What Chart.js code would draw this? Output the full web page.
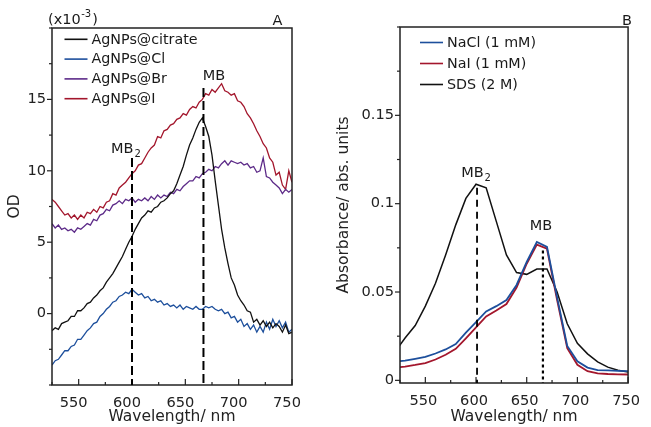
<!DOCTYPE html>
<html>
<head>
<meta charset="utf-8">
<script src="https://cdn.jsdelivr.net/npm/chart.js@4.4.1/dist/chart.umd.min.js"></script>
<style>
  body { margin: 0; background: #fff; width: 651px; height: 427px; overflow: hidden; position: relative; }
  .panel { position: absolute; top: 0; height: 427px; }
  #wrapA { left: 0; width: 325px; }
  #wrapB { left: 325px; width: 326px; }
</style>
</head>
<body>
<div class="panel" id="wrapA"><canvas id="chartA" width="325" height="427"></canvas></div>
<div class="panel" id="wrapB"><canvas id="chartB" width="326" height="427"></canvas></div>
<script>
// ---------- panel A data (OD x10^-3) ----------
const wavelengthsA = [525,528,531,534,537,540,543,546,549,552,555,558,561,564,567,570,573,576,579,582,
  585,588,591,594,597,600,603,606,609,612,615,618,621,624,627,630,633,636,639,642,
  645,648,651,654,657,660,663,666,669,672,675,678,681,684,687,690,693,696,699,702,
  705,708,711,714,717,720,723,726,729,732,735,738,741,744,747,750];
const odCitrate = [-1.2,-1.0,-1.1,-0.7,-0.6,-0.5,-0.2,-0.2,0.2,0.2,0.4,0.7,0.8,1.1,1.3,1.6,1.8,2.2,2.5,2.8,
  3.2,3.6,4.0,4.5,5.0,5.4,5.9,6.3,6.7,6.9,7.2,7.1,7.4,7.5,7.8,7.9,8.1,8.4,8.6,9.1,
  9.7,10.3,11.1,11.8,12.3,12.9,13.4,13.7,13.1,12.4,11.1,9.3,7.6,5.9,4.6,3.5,2.5,2.0,1.3,0.9,
  0.6,0.2,0.1,-0.6,-0.4,-0.8,-0.5,-0.9,-0.6,-1.0,-0.7,-0.9,-1.3,-0.8,-1.4,-1.3];
const odCl = [-3.6,-3.3,-3.2,-2.9,-2.6,-2.6,-2.3,-2.2,-1.8,-1.8,-1.5,-1.2,-1.0,-0.7,-0.6,-0.2,0.0,0.3,0.5,0.8,
  0.9,1.2,1.3,1.5,1.4,1.7,1.5,1.3,1.4,1.1,1.2,0.9,1.0,0.8,0.9,0.6,0.7,0.5,0.6,0.4,
  0.6,0.3,0.5,0.4,0.3,0.5,0.3,0.3,0.5,0.4,0.5,0.3,0.2,0.3,0.0,0.1,-0.3,-0.2,-0.6,-0.4,
  -0.9,-0.7,-1.1,-0.8,-1.3,-0.9,-1.3,-0.6,-1.1,-0.4,-0.9,-0.5,-1.0,-0.6,-1.3,-1.1];
const odBr = [6.3,6.0,6.2,5.9,6.0,5.8,5.9,5.7,6.0,5.9,6.1,6.3,6.2,6.6,6.5,6.9,7.0,7.3,7.2,7.6,
  7.7,7.9,7.7,8.0,7.9,8.1,7.8,8.0,7.9,8.1,7.9,8.2,8.0,8.3,8.1,8.3,8.2,8.5,8.4,8.7,
  8.6,8.9,9.1,9.3,9.3,9.6,9.5,9.8,9.9,10.1,10.0,10.3,10.2,10.5,10.7,10.4,10.7,10.6,10.5,10.6,
  10.4,10.5,10.2,10.3,9.9,10.0,10.9,9.6,9.5,9.2,9.0,8.8,8.4,8.7,8.5,8.7];
const odI = [8.0,7.8,7.5,7.2,6.9,7.0,6.7,6.9,6.6,6.9,6.7,7.1,7.0,7.3,7.1,7.5,7.4,7.8,7.9,8.4,
  8.3,8.8,9.0,9.2,9.5,9.8,10.0,10.4,10.5,10.9,11.3,11.6,11.8,12.4,12.3,12.8,12.9,13.2,13.3,13.6,
  13.7,14.0,13.9,14.3,14.5,14.4,14.8,15.0,15.4,15.3,15.7,15.5,15.8,16.1,15.6,15.5,15.3,15.4,14.9,14.8,
  14.5,14.0,13.7,13.3,12.8,12.4,11.9,11.6,10.9,10.6,9.7,9.9,9.0,8.7,10.0,9.2];
const namesA = ['AgNPs@citrate', 'AgNPs@Cl', 'AgNPs@Br', 'AgNPs@I'];

// ---------- panel B data (absorbance) ----------
const wavelengthsB = [520,530,540,550,560,570,580,590,600,610,620,630,640,650,660,670,680,690,700,710,720,730,740,750];
const absNaCl = [0.0105,0.0112,0.0122,0.0133,0.0152,0.0175,0.0205,0.027,0.033,0.039,0.042,0.0455,
  0.054,0.067,0.0783,0.0755,0.047,0.0195,0.0108,0.0072,0.0058,0.0056,0.0054,0.0052];
const absNaI = [0.0072,0.0078,0.0087,0.0098,0.0118,0.0145,0.0178,0.0238,0.030,0.0362,0.0395,0.0432,
  0.0525,0.066,0.0768,0.0745,0.0455,0.0182,0.0088,0.0052,0.0040,0.0036,0.0034,0.0033];
const absSDS = [0.016,0.024,0.031,0.042,0.055,0.071,0.088,0.103,0.111,0.109,0.090,0.071,
  0.061,0.060,0.063,0.063,0.050,0.032,0.021,0.015,0.0105,0.0075,0.0057,0.0047];
const namesB = ['NaCl (1 mM)', 'NaI (1 mM)', 'SDS (2 M)'];

// tick labels
const xTickLabels = [550, 600, 650, 700, 750];
const yTickLabelsA = [0, 5, 10, 15];
const yTickLabelsB = [0, 0.05, 0.1, 0.15];

// marker lines: wavelength and where the line starts
const markerWlA = [600, 667];
const markerTopA = [10.9, 15.8];
const markerWlB = [601, 666];
const markerTopB = [0.109, 0.0735];

const FONT = "'DejaVu Sans', sans-serif";
const BLACK = '#111111';
const BLUE = '#1d4f9c';
const PURPLE = '#5c2a88';
const RED = '#a3162c';

function pairs(xs, ys) {
  return xs.map((x, i) => ({ x: x, y: ys[i] }));
}
function findLabel(list, v) {
  const hit = list.find(t => Math.abs(t - v) < 1e-6);
  return hit === undefined ? '' : String(hit);
}

// draws frame, inward x ticks, outward y ticks, marker lines, legend and header text
function decor(cfg) {
  return {
    id: 'decor',
    afterDraw(chart) {
      const ctx = chart.ctx;
      const a = chart.chartArea;
      const xs = chart.scales.x, ys = chart.scales.y;
      ctx.save();
      ctx.strokeStyle = '#222';
      ctx.lineWidth = 1.5;
      ctx.strokeRect(a.left, a.top, a.right - a.left, a.bottom - a.top);

      ctx.lineWidth = 1.2;
      xs.ticks.forEach(t => {
        const px = xs.getPixelForValue(t.value);
        const len = findLabel(xTickLabels, t.value) ? 6 : 3;
        ctx.beginPath(); ctx.moveTo(px, a.bottom); ctx.lineTo(px, a.bottom - len); ctx.stroke();
      });
      ys.ticks.forEach(t => {
        const py = ys.getPixelForValue(t.value);
        const len = findLabel(cfg.yLabels, t.value) ? 5 : 3;
        ctx.beginPath(); ctx.moveTo(a.left, py); ctx.lineTo(a.left - len, py); ctx.stroke();
      });

      // marker lines + labels
      cfg.markers.forEach(m => {
        const px = xs.getPixelForValue(m.wl);
        const py = ys.getPixelForValue(m.top);
        ctx.strokeStyle = '#000';
        ctx.lineWidth = m.width;
        ctx.setLineDash(m.dash);
        ctx.beginPath(); ctx.moveTo(px, py); ctx.lineTo(px, a.bottom); ctx.stroke();
        ctx.setLineDash([]);
        ctx.fillStyle = '#1a1a1a';
        ctx.font = '14.5px ' + FONT;
        ctx.textBaseline = 'alphabetic';
        ctx.textAlign = 'left';
        const w1 = ctx.measureText('MB').width;
        ctx.font = '10px ' + FONT;
        const w2 = m.sub ? ctx.measureText(m.sub).width + 1 : 0;
        const x0 = px + m.dx - (w1 + w2) / 2;
        const base = py - m.gap;
        ctx.font = '14.5px ' + FONT;
        ctx.fillText('MB', x0, base);
        if (m.sub) {
          ctx.font = '10px ' + FONT;
          ctx.fillText(m.sub, x0 + w1 + 1, base + 4);
        }
      });

      // legend
      ctx.font = '14.3px ' + FONT;
      ctx.textBaseline = 'middle';
      ctx.textAlign = 'left';
      chart.data.datasets.forEach((ds, i) => {
        const k = cfg.legendOrder[i];
        const ly = a.top + cfg.legend.top + k * cfg.legend.dy;
        const lx = a.left + cfg.legend.left;
        ctx.strokeStyle = ds.borderColor;
        ctx.lineWidth = 1.6;
        ctx.beginPath(); ctx.moveTo(lx, ly); ctx.lineTo(lx + 23, ly); ctx.stroke();
        ctx.fillStyle = '#1a1a1a';
        ctx.fillText(ds.label, lx + 27, ly + 0.5);
      });

      // header
      ctx.fillStyle = '#1a1a1a';
      ctx.textBaseline = 'alphabetic';
      ctx.font = '14.5px ' + FONT;
      ctx.textAlign = 'center';
      ctx.fillText(cfg.letter, cfg.letterX, 25);
      if (cfg.exponent) {
        ctx.textAlign = 'left';
        let x = 48;
        ctx.fillText('(x10', x, 24);
        x += ctx.measureText('(x10').width;
        ctx.font = '10px ' + FONT;
        ctx.fillText('-3', x + 0.5, 17);
        x += ctx.measureText('-3').width + 1.5;
        ctx.font = '14.5px ' + FONT;
        ctx.fillText(')', x, 24);
      }
      ctx.restore();
    }
  };
}

function baseOptions(p) {
  return {
    responsive: false,
    animation: false,
    events: [],
    layout: { padding: { top: p.top, right: p.right, left: 0, bottom: 0 } },
    plugins: { legend: { display: false }, tooltip: { enabled: false } },
    elements: { point: { radius: 0 }, line: { tension: 0 } },
    scales: {
      x: {
        type: 'linear', min: 525, max: 750,
        grid: { display: false, drawTicks: false },
        border: { display: false },
        ticks: {
          stepSize: 25, autoSkip: false, maxRotation: 0, padding: 9, labelOffset: p.labelOffset,
          color: '#222', font: { family: FONT, size: 14.6 },
          callback: v => findLabel(xTickLabels, v)
        },
        title: { display: true, text: 'Wavelength/ nm', color: '#222', font: { family: FONT, size: 15.5 }, padding: { top: 0, bottom: 1 } },
        afterFit: s => { s.height = p.xHeight; }
      },
      y: {
        type: 'linear', min: p.ymin, max: p.ymax,
        grid: { display: false, drawTicks: false },
        border: { display: false },
        ticks: {
          stepSize: p.ystep, includeBounds: false, autoSkip: false, padding: 6,
          color: '#222', font: { family: FONT, size: 14.6 },
          callback: v => findLabel(p.yLabels, v)
        },
        title: { display: true, text: p.ytitle, color: '#222', font: { family: FONT, size: 15.5 }, padding: { top: p.ytitlePad, bottom: 0 } },
        afterFit: s => { s.width = p.yWidth; }
      }
    }
  };
}

new Chart(document.getElementById('chartA'), {
  type: 'line',
  data: {
    datasets: [
      { label: namesA[0], data: pairs(wavelengthsA, odCitrate), borderColor: BLACK, borderWidth: 1.3 },
      { label: namesA[1], data: pairs(wavelengthsA, odCl), borderColor: BLUE, borderWidth: 1.3 },
      { label: namesA[2], data: pairs(wavelengthsA, odBr), borderColor: PURPLE, borderWidth: 1.3 },
      { label: namesA[3], data: pairs(wavelengthsA, odI), borderColor: RED, borderWidth: 1.3 }
    ]
  },
  options: baseOptions({ top: 28, right: 33, xHeight: 42, yWidth: 52, ymin: -5, ymax: 20, ystep: 2.5,
    yLabels: yTickLabelsA, ytitle: 'OD', ytitlePad: 6, labelOffset: -5 }),
  plugins: [decor({
    yLabels: yTickLabelsA,
    legendOrder: [0, 1, 2, 3],
    legend: { left: 12.5, top: 11.3, dy: 19.8 },
    letter: 'A', letterX: 277.5, exponent: true,
    markers: [
      { wl: markerWlA[0], top: markerTopA[0], sub: '2', dx: -6, gap: 5, dash: [9, 4], width: 2 },
      { wl: markerWlA[1], top: markerTopA[1], sub: '', dx: 10.5, gap: 7.5, dash: [9, 4], width: 2 }
    ]
  })]
});

new Chart(document.getElementById('chartB'), {
  type: 'line',
  data: {
    datasets: [
      { label: namesB[0], data: pairs(wavelengthsB, absNaCl), borderColor: BLUE, borderWidth: 1.8 },
      { label: namesB[1], data: pairs(wavelengthsB, absNaI), borderColor: RED, borderWidth: 1.8 },
      { label: namesB[2], data: pairs(wavelengthsB, absSDS), borderColor: BLACK, borderWidth: 1.5 }
    ]
  },
  options: baseOptions({ top: 27, right: 12, xHeight: 44, yWidth: 75, ymin: -0.0015, ymax: 0.2, ystep: 0.025,
    yLabels: yTickLabelsB, ytitle: 'Absorbance/ abs. units', ytitlePad: 10, labelOffset: -2 }),
  plugins: [decor({
    yLabels: yTickLabelsB,
    legendOrder: [0, 1, 2],
    legend: { left: 20, top: 15.5, dy: 21 },
    letter: 'B', letterX: 302, exponent: false,
    markers: [
      { wl: markerWlB[0], top: markerTopB[0], sub: '2', dx: -1, gap: 11, dash: [7, 5], width: 1.8 },
      { wl: markerWlB[1], top: markerTopB[1], sub: '', dx: -2, gap: 20, dash: [3, 3], width: 2.2 }
    ]
  })]
});
</script>
</body>
</html>
